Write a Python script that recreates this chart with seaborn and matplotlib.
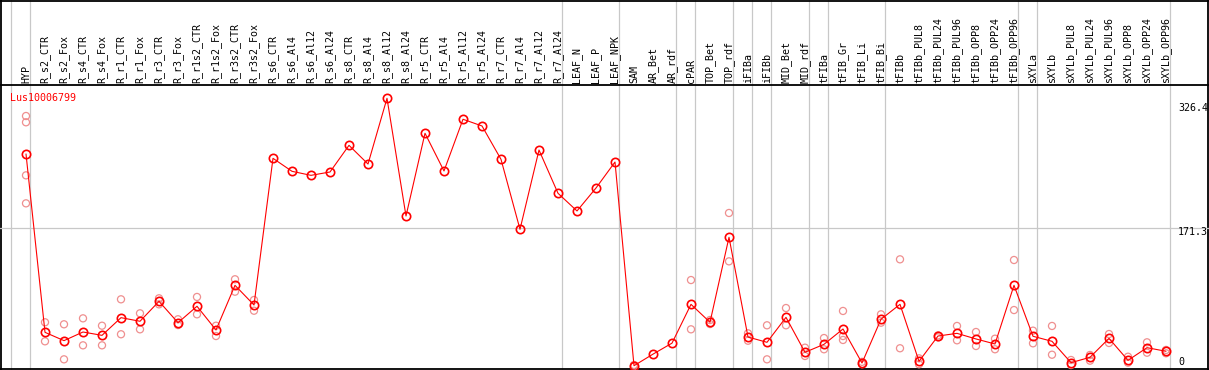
import numpy as np
import pandas as pd
import matplotlib
matplotlib.use("Agg")
import matplotlib.pyplot as plt
import seaborn as sns

# ---------------- data ----------------
gene_id = "Lus10006799"

samples = ["HYP", "R_s2_CTR", "R_s2_Fox", "R_s4_CTR", "R_s4_Fox", "R_r1_CTR", "R_r1_Fox",
           "R_r3_CTR", "R_r3_Fox", "R_r1s2_CTR", "R_r1s2_Fox", "R_r3s2_CTR", "R_r3s2_Fox",
           "R_s6_CTR", "R_s6_Al4", "R_s6_Al12", "R_s6_Al24", "R_s8_CTR", "R_s8_Al4", "R_s8_Al12",
           "R_s8_Al24", "R_r5_CTR", "R_r5_Al4", "R_r5_Al12", "R_r5_Al24", "R_r7_CTR", "R_r7_Al4",
           "R_r7_Al12", "R_r7_Al24", "LEAF_N", "LEAF_P", "LEAF_NPK", "SAM", "AR_Bet", "AR_rdf",
           "cPAR", "TOP_Bet", "TOP_rdf", "iFIBa", "iFIBb", "MID_Bet", "MID_rdf", "tFIBa",
           "tFIB_Gr", "tFIB_Li", "tFIB_Bi", "tFIBb", "tFIBb_PUL8", "tFIBb_PUL24", "tFIBb_PUL96",
           "tFIBb_OPP8", "tFIBb_OPP24", "tFIBb_OPP96", "sXYLa", "sXYLb", "sXYLb_PUL8",
           "sXYLb_PUL24", "sXYLb_PUL96", "sXYLb_OPP8", "sXYLb_OPP24", "sXYLb_OPP96"]

mean_values = [260.0, 47.2, 37.3, 47.6, 43.6, 64.7, 60.4, 84.2, 58.7, 78.3, 50.0, 103.3, 79.8,
               254.8, 239.3, 234.5, 238.5, 270.3, 248.0, 326.4, 186.0, 284.7, 239.7, 301.4,
               293.4, 253.6, 170.1, 264.7, 213.1, 192.0, 219.4, 250.4, 7.4, 21.2, 34.3,
               80.6, 59.2, 160.6, 41.6, 35.3, 65.1, 23.4, 32.9, 51.2, 10.6, 62.8, 80.6,
               12.6, 42.8, 46.0, 39.3, 33.3, 103.3, 42.5, 36.5, 11.0, 17.4, 40.0, 13.8,
               28.9, 24.6]

replicates = [[305.3, 297.8, 234.5, 201.1], [59.2, 36.5], [56.8, 15.0], [63.9, 31.7],
              [55.1, 31.7], [86.6, 44.9], [69.9, 50.8], [87.8, 80.6], [62.8, 55.9],
              [89.4, 68.7], [55.1, 42.8], [110.5, 95.7], [85.8, 73.0],
              [], [], [], [], [], [], [], [], [], [], [], [], [], [], [], [], [], [], [],
              [6.5, 8.3], [], [],
              [109.6, 50.8], [61.9, 57.1], [189.6, 131.9], [46.0, 37.2], [55.6, 15.0],
              [76.2, 55.6], [28.9, 19.0], [40.4, 27.0], [72.7, 42.8, 38.1], [12.0, 9.2],
              [68.7, 58.7], [134.3, 28.2], [16.2, 9.1], [43.6, 41.2], [54.8, 37.7],
              [47.6, 30.9], [39.6, 27.0], [133.5, 73.8], [49.2, 34.1], [54.8, 20.5],
              [14.2, 8.2], [20.2, 13.4], [45.2, 34.5], [18.1, 11.0], [35.3, 22.9],
              [26.2, 22.2]]

group_ends = ["HYP", "R_r7_Al24", "LEAF_NPK", "AR_rdf", "cPAR", "TOP_rdf", "iFIBa", "iFIBb",
              "MID_rdf", "tFIBa", "tFIB_Bi", "tFIBb_OPP96", "sXYLa", "sXYLb_OPP96"]

y_labels = [326.4, 171.3, 0]
grid_value = 171.3

# ---------------- styling ----------------
RED = "#ff0000"
PINK = "#ef8f8f"
GRAY = "#c8c8c8"
FS = 7.2

sns.set_theme(style="white")
plt.rcParams['font.family'] = ['DejaVu Sans Mono', 'DejaVu Sans']

W, H = 1209, 370
fig = plt.figure(figsize=(W / 100, H / 100), dpi=100)

X0, DX = 26.0, 19.0          # pixel of first category, pixel spacing
Y0, KY = 371.9, 0.8382       # pixel of value 0, pixels per unit
TOP = 85                     # divider between labels and plot

def xc(px):
    return (px - X0) / DX

def yv(py):
    return (Y0 - py) / KY

# background axes (frame & separators), pixel y coordinates
bg = fig.add_axes([0, 0, 1, 1])
bg.set_xlim(xc(0), xc(W))
bg.set_ylim(H, 0)
bg.axis("off")

idx = {s: i for i, s in enumerate(samples)}
sep_pos = [-1] + [idx[g] for g in group_ends]
for j in sep_pos:
    bg.axvline(j + 0.23, color=GRAY, lw=0.9, zorder=1)

for xx in (xc(1.5), xc(1207.5)):
    bg.axvline(xx, color="black", lw=1.3, zorder=3)
for yy in (0.6, TOP, 369.2):
    bg.axhline(yy, color="black", lw=1.3, zorder=3)

# main plotting axes
ax = fig.add_axes([0, 0, 1, (H - TOP) / H])
ax.patch.set_alpha(0)
for sp in ax.spines.values():
    sp.set_visible(False)

ax.axhline(grid_value, color=GRAY, lw=0.9, zorder=1)

rep_x = [i for i, r in enumerate(replicates) for _ in r]
rep_y = [v for r in replicates for v in r]
rep_df = pd.DataFrame({"x": rep_x, "y": rep_y})
main_df = pd.DataFrame({"x": np.arange(len(samples)), "y": mean_values})

sns.scatterplot(data=rep_df, x="x", y="y", ax=ax, marker="o", s=26,
                color=PINK, facecolor="none", edgecolor=PINK, linewidth=0.9, zorder=2)
sns.lineplot(data=main_df, x="x", y="y", ax=ax, color=RED, lw=0.8, zorder=3,
             marker="o", markersize=6.0, markerfacecolor="none",
             markeredgecolor=RED, markeredgewidth=1.2)

ax.set_xlim(xc(0), xc(W))
ax.set_ylim(yv(H), yv(TOP))
ax.set_xlabel("")
ax.set_ylabel("")
ax.set_yticks([])
ax.set_xticks(np.arange(len(samples)))
ax.set_xticklabels(samples, rotation=90, fontsize=FS)
ax.xaxis.tick_top()
ax.tick_params(axis="x", length=0, pad=1.5, colors="black")

# gene id
ax.annotate(gene_id, xy=(xc(10), yv(97.7)), va="center", ha="left",
            fontsize=FS, color=RED, annotation_clip=False)

# value labels on the right
offsets = {326.4: -6.8, 171.3: -2.6, 0: 7.0}
for v in y_labels:
    ax.annotate(f"{v}", xy=(xc(1178), v), xytext=(0, offsets[v]),
                textcoords="offset points", va="center", ha="left",
                fontsize=FS, color="black", annotation_clip=False)

fig.savefig("out.png", dpi=100)
